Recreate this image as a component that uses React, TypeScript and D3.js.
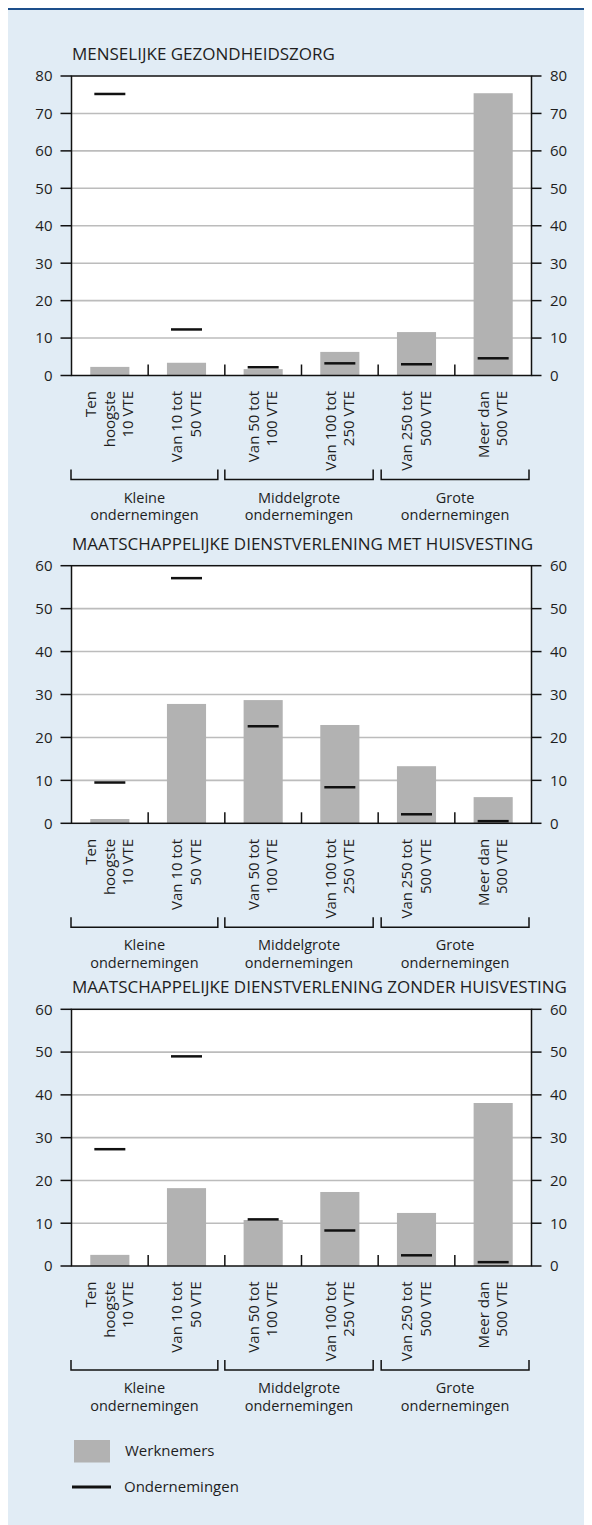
import React from "react";
import * as d3 from "d3";

const categories = ["c1", "c2", "c3", "c4", "c5", "c6"];
const categoryLabels = [
  ["Ten", "hoogste", "10 VTE"],
  ["Van 10 tot", "50 VTE"],
  ["Van 50 tot", "100 VTE"],
  ["Van 100 tot", "250 VTE"],
  ["Van 250 tot", "500 VTE"],
  ["Meer dan", "500 VTE"],
];
const groupLabels = [
  ["Kleine", "ondernemingen"],
  ["Middelgrote", "ondernemingen"],
  ["Grote", "ondernemingen"],
];
const titles = [
  "MENSELIJKE GEZONDHEIDSZORG",
  "MAATSCHAPPELIJKE DIENSTVERLENING MET HUISVESTING",
  "MAATSCHAPPELIJKE DIENSTVERLENING ZONDER HUISVESTING",
];
const yMax = [80, 60, 60];
const werknemers1 = [2.3, 3.4, 1.7, 6.3, 11.6, 75.4];
const ondernemingen1 = [75.2, 12.3, 2.2, 3.25, 3.0, 4.6];
const werknemers2 = [1.0, 27.8, 28.7, 22.9, 13.3, 6.1];
const ondernemingen2 = [9.5, 57.1, 22.6, 8.4, 2.1, 0.5];
const werknemers3 = [2.6, 18.2, 10.75, 17.3, 12.4, 38.1];
const ondernemingen3 = [27.3, 49.0, 10.9, 8.3, 2.5, 0.9];
const legendLabels = ["Werknemers", "Ondernemingen"];

const werkSeries = [werknemers1, werknemers2, werknemers3];
const ondSeries = [ondernemingen1, ondernemingen2, ondernemingen3];

// layout (page coordinates)
const plotTops = [76, 565.7, 1009.3];
const plotBottoms = [375.5, 823.3, 1266];
const PL = 71.5;
const PR = 531.5;
const FONT = "'Open Sans', 'Noto Sans', sans-serif";
const TEXT = "#1e1e1e";
const BAR = "#b2b2b2";
const GRID = "#bcbcbc";

function Chart({ idx }: { idx: number }) {
  const top = plotTops[idx];
  const bottom = plotBottoms[idx];
  const x = d3.scaleBand<string>().domain(categories).range([PL, PR]).padding(0);
  const y = d3.scaleLinear().domain([0, yMax[idx]]).range([bottom, top]);
  const ticks = d3.range(0, yMax[idx] + 1, 10);
  const bw = x.bandwidth();
  const barW = bw * 0.51;
  const lineW = 31;
  const werk = werkSeries[idx];
  const ond = ondSeries[idx];
  const groupStartOff = [-0.5, 0, 3];
  const groupEndOff = [7, 5, 2.5];
  return (
    <g>
      <text x={72} y={top - 16} fontSize={17} fill={TEXT} fontFamily={FONT}>
        {titles[idx]}
      </text>
      <rect x={PL} y={top} width={PR - PL} height={bottom - top} fill="#fff" />
      {ticks.slice(1, -1).map((t) => (
        <line key={"g" + t} x1={PL} x2={PR} y1={y(t)} y2={y(t)} stroke={GRID} strokeWidth={1.6} />
      ))}
      {categories.map((c, i) => (
        <rect
          key={"b" + c}
          x={(x(c) as number) + (bw - barW) / 2}
          y={y(werk[i])}
          width={barW}
          height={bottom - y(werk[i])}
          fill={BAR}
        />
      ))}
      {categories.map((c, i) => (
        <line
          key={"l" + c}
          x1={(x(c) as number) + bw / 2 - lineW / 2}
          x2={(x(c) as number) + bw / 2 + lineW / 2}
          y1={y(ond[i])}
          y2={y(ond[i])}
          stroke="#111"
          strokeWidth={2.5}
        />
      ))}
      {categories.slice(1).map((c) => (
        <line
          key={"s" + c}
          x1={x(c) as number}
          x2={x(c) as number}
          y1={bottom}
          y2={bottom - 11}
          stroke="#111"
          strokeWidth={1.5}
        />
      ))}
      <rect x={PL} y={top} width={PR - PL} height={bottom - top} fill="none" stroke="#111" strokeWidth={1.5} />
      {ticks.map((t) => (
        <g key={"t" + t}>
          <line x1={PL - 11} x2={PL} y1={y(t)} y2={y(t)} stroke="#111" strokeWidth={1.5} />
          <line x1={PR} x2={PR + 10} y1={y(t)} y2={y(t)} stroke="#111" strokeWidth={1.5} />
          <text x={52.5} y={y(t)} dy="0.36em" textAnchor="end" fontSize={15} fill={TEXT} fontFamily={FONT}>
            {t}
          </text>
          <text x={550} y={y(t)} dy="0.36em" textAnchor="start" fontSize={15} fill={TEXT} fontFamily={FONT}>
            {t}
          </text>
        </g>
      ))}
      {categories.map((c, i) => {
        const lines = categoryLabels[i];
        const cx = (x(c) as number) + bw / 2 - 1;
        const lh = 18.6;
        return (
          <g key={"cl" + c}>
            {lines.map((ln, j) => {
              const lx = cx + (j - (lines.length - 1) / 2) * lh;
              const ly = bottom + 15.5;
              return (
                <text
                  key={j}
                  transform={`translate(${lx},${ly}) rotate(-90)`}
                  textAnchor="end"
                  dominantBaseline="central"
                  fontSize={15}
                  fill={TEXT}
                  fontFamily={FONT}
                >
                  {ln}
                </text>
              );
            })}
          </g>
        );
      })}
      {groupLabels.map((gl, g) => {
        const x0 = (x(categories[g * 2]) as number) + groupStartOff[g];
        const x1 = (x(categories[g * 2 + 1]) as number) + bw - groupEndOff[g];
        const yb = bottom + 104;
        const cx = (x0 + x1) / 2;
        return (
          <g key={"gr" + g}>
            <path
              d={`M${x0},${yb - 10}V${yb}H${x1}V${yb - 10}`}
              fill="none"
              stroke="#111"
              strokeWidth={1.5}
            />
            {gl.map((t, j) => (
              <text
                key={j}
                x={cx}
                y={bottom + 122 + j * 17.5}
                dy="0.35em"
                textAnchor="middle"
                fontSize={14.5}
                fill={TEXT}
                fontFamily={FONT}
              >
                {t}
              </text>
            ))}
          </g>
        );
      })}
    </g>
  );
}

export default function App() {
  return (
    <svg width={576} height={1517} style={{ display: "block" }}>
      <g transform="translate(-8,-8)">
        <rect x={8} y={8} width={576} height={1517} fill="#e1ecf5" />
        <line x1={8} x2={584} y1={9} y2={9} stroke="#1d4f8b" strokeWidth={2} />
        {[0, 1, 2].map((i) => (
          <Chart key={i} idx={i} />
        ))}
        <rect x={74} y={1440} width={36} height={22.5} fill={BAR} />
        <text x={125} y={1451} dy="0.35em" fontSize={15} fill={TEXT} fontFamily={FONT}>
          {legendLabels[0]}
        </text>
        <line x1={72} x2={111} y1={1487} y2={1487} stroke="#111" strokeWidth={3} />
        <text x={124} y={1487} dy="0.35em" fontSize={15} fill={TEXT} fontFamily={FONT}>
          {legendLabels[1]}
        </text>
      </g>
    </svg>
  );
}
